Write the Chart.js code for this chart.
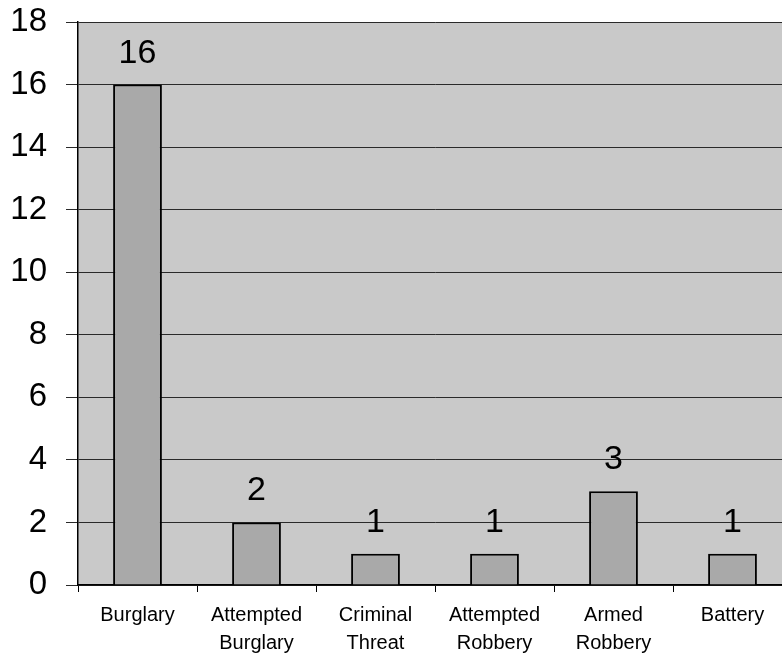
<!DOCTYPE html>
<html>
<head>
<meta charset="utf-8">
<script src="https://cdn.jsdelivr.net/npm/chart.js@4/dist/chart.umd.min.js"></script>
<style>
  html, body { margin: 0; padding: 0; background: #fff; overflow: hidden; }
  canvas { display: block; }
</style>
</head>
<body>
<canvas id="myChart" width="792" height="655"></canvas>
<script>
const categories = [
  "Burglary",
  ["Attempted", "Burglary"],
  ["Criminal", "Threat"],
  ["Attempted", "Robbery"],
  ["Armed", "Robbery"],
  "Battery",
];
const counts = [16, 2, 1, 1, 3, 1];
const yTicks = [0, 2, 4, 6, 8, 10, 12, 14, 16, 18];

const FONT = "Arial, 'Liberation Sans', sans-serif";

// grey plot area behind everything
const plotBg = {
  id: "plotBg",
  beforeDraw(chart) {
    const { ctx, chartArea: a } = chart;
    ctx.save();
    ctx.fillStyle = "#c9c9c9";
    ctx.fillRect(a.left, a.top, a.right - a.left, a.bottom - a.top);
    ctx.restore();
  },
};

// value above each bar
const valueLabels = {
  id: "valueLabels",
  afterDatasetsDraw(chart) {
    const ctx = chart.ctx;
    const meta = chart.getDatasetMeta(0);
    ctx.save();
    ctx.font = "34px " + FONT;
    ctx.fillStyle = "#000";
    ctx.textAlign = "center";
    ctx.textBaseline = "alphabetic";
    meta.data.forEach((bar, i) => {
      ctx.fillText(String(chart.data.datasets[0].data[i]), bar.x, bar.y - 22);
    });
    ctx.restore();
  },
};

const ctx = document.getElementById("myChart").getContext("2d");
new Chart(ctx, {
  type: "bar",
  data: {
    labels: categories,
    datasets: [
      {
        data: counts,
        backgroundColor: "#a9a9a9",
        borderColor: "#000",
        borderWidth: 2,
        barPercentage: 0.41,
        categoryPercentage: 1,
      },
    ],
  },
  options: {
    responsive: false,
    animation: false,
    layout: { padding: { top: 22, left: 0, right: 0, bottom: 0 } },
    plugins: {
      legend: { display: false },
      tooltip: { enabled: false },
    },
    scales: {
      x: {
        grid: {
          offset: true,
          drawOnChartArea: false,
          tickLength: 7,
          color: "#000",
        },
        border: { display: true, color: "#000", width: 1.5 },
        ticks: {
          color: "#000",
          font: { family: FONT, size: 20, lineHeight: 1.4 },
          padding: 9,
          maxRotation: 0,
          autoSkip: false,
        },
        afterFit(scale) {
          scale.height = 70;
        },
      },
      y: {
        min: 0,
        max: 18,
        afterBuildTicks(scale) {
          scale.ticks = yTicks.map((v) => ({ value: v }));
        },
        grid: {
          color: "#2a2a2a",
          lineWidth: 1,
          tickLength: 12,
        },
        border: { display: true, color: "#000", width: 1.5 },
        ticks: {
          color: "#000",
          font: { family: FONT, size: 33 },
          padding: 19,
        },
        afterFit(scale) {
          scale.width = 78;
          scale.paddingTop = 0;
          scale.paddingBottom = 0;
        },
      },
    },
  },
  plugins: [plotBg, valueLabels],
});
</script>
</body>
</html>
